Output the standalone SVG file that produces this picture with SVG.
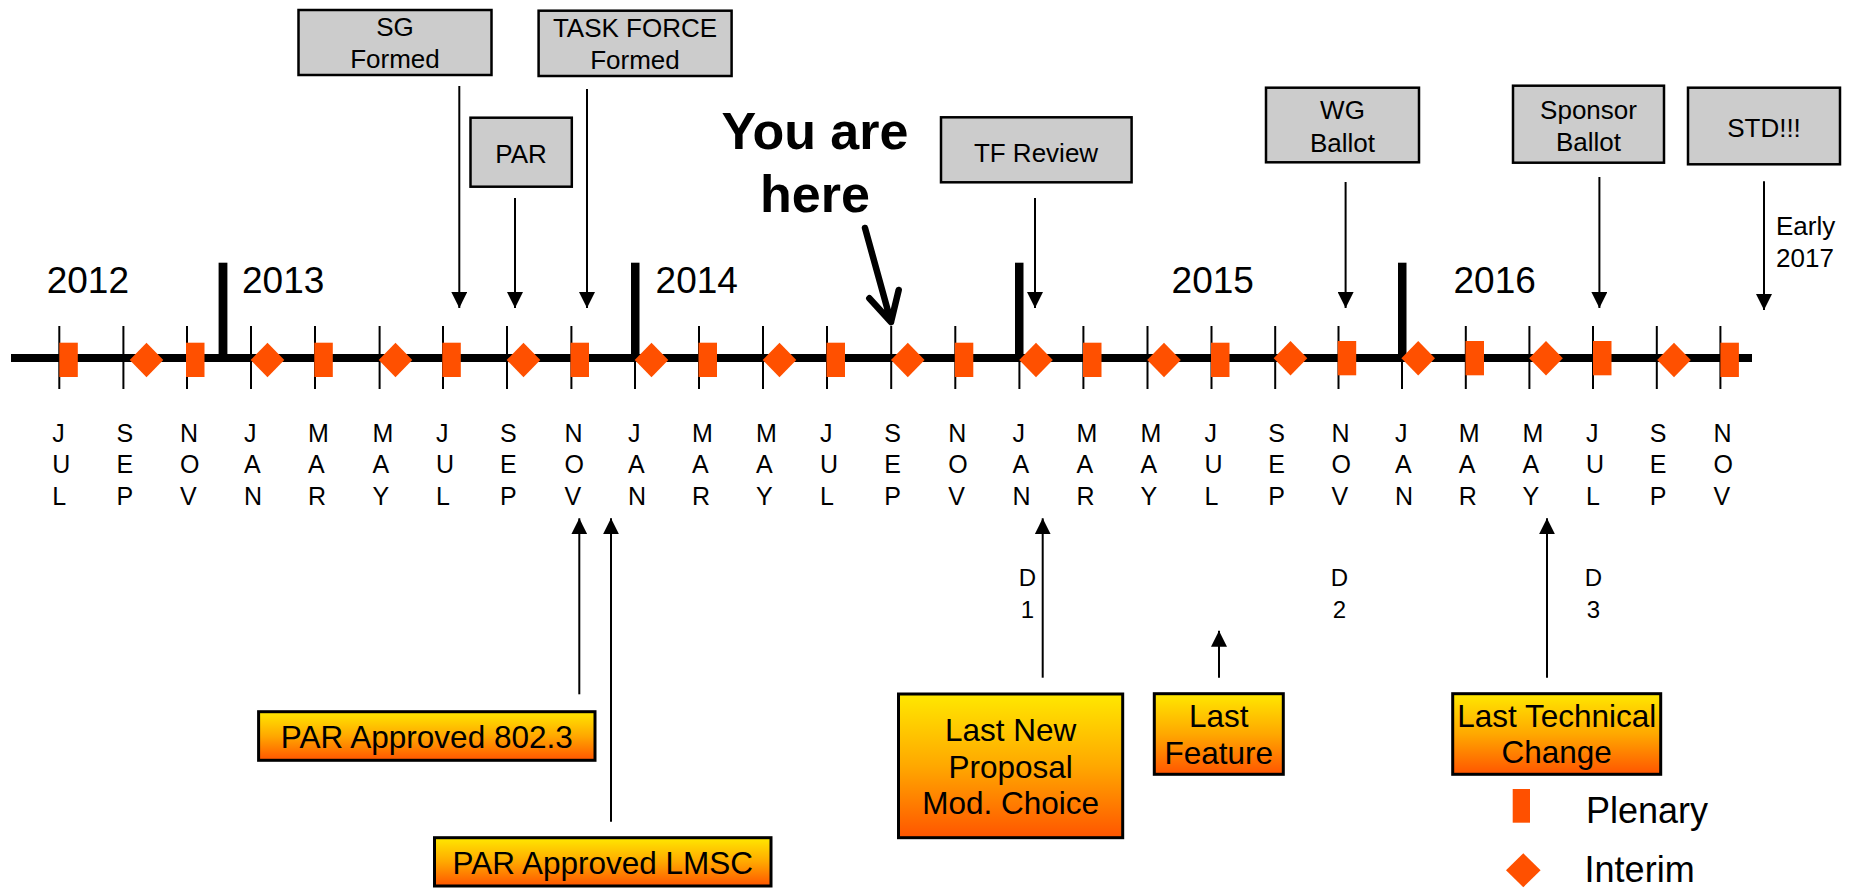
<svg xmlns="http://www.w3.org/2000/svg" width="1864" height="888" viewBox="0 0 1864 888">
<defs>
<linearGradient id="gy" x1="0" y1="0" x2="0" y2="1">
<stop offset="0" stop-color="#FFE800"/>
<stop offset="0.5" stop-color="#FFA800"/>
<stop offset="1" stop-color="#FF5500"/>
</linearGradient>
<marker id="ah" viewBox="0 0 16 16" refX="16" refY="8" markerWidth="16" markerHeight="16" markerUnits="userSpaceOnUse" orient="auto">
<path d="M0,0 L16,8 L0,16 Z" fill="#000"/>
</marker>
<rect id="plen" x="0" y="0" width="18.5" height="34.3" fill="#FF5000"/>
<path id="dia" d="M0,-17.3 L16.8,0 L0,17.3 L-16.8,0 Z" fill="#FF5000"/>
</defs>
<style>
text{font-family:"Liberation Sans",Arial,sans-serif;fill:#000}
.box{fill:#CCCCCC;stroke:#000;stroke-width:2.5}
.gbox{fill:url(#gy);stroke:#000;stroke-width:3}
.bt{font-size:26px;text-anchor:middle}
.gt{font-size:31.5px;text-anchor:middle}
.yr{font-size:37px}
.mo{font-size:25px}
.dl{font-size:24px;text-anchor:middle}
.ar{stroke:#000;stroke-width:2;fill:none;marker-end:url(#ah)}
.tick{stroke:#000;stroke-width:2}
.ybar{fill:#000}
.lg{font-size:36px}
</style>
<rect width="1864" height="888" fill="#fff"/>

<g id="timeline">
<line x1="11" y1="358" x2="1752" y2="358" stroke="#000" stroke-width="8"/>
<rect class="ybar" x="218.6" y="262.7" width="8.8" height="96"/>
<rect class="ybar" x="631" y="262.7" width="8.5" height="96"/>
<rect class="ybar" x="1015" y="262.7" width="8.5" height="96"/>
<rect class="ybar" x="1398" y="262.7" width="8.5" height="96"/>
<g id="ticks">
<line class="tick" x1="59.3" y1="326" x2="59.3" y2="389"/>
<line class="tick" x1="123.4" y1="326" x2="123.4" y2="389"/>
<line class="tick" x1="187" y1="326" x2="187" y2="389"/>
<line class="tick" x1="251" y1="326" x2="251" y2="389"/>
<line class="tick" x1="315" y1="326" x2="315" y2="389"/>
<line class="tick" x1="379.6" y1="326" x2="379.6" y2="389"/>
<line class="tick" x1="443" y1="326" x2="443" y2="389"/>
<line class="tick" x1="507" y1="326" x2="507" y2="389"/>
<line class="tick" x1="571.4" y1="326" x2="571.4" y2="389"/>
<line class="tick" x1="635" y1="326" x2="635" y2="389"/>
<line class="tick" x1="699" y1="326" x2="699" y2="389"/>
<line class="tick" x1="763" y1="326" x2="763" y2="389"/>
<line class="tick" x1="827" y1="326" x2="827" y2="389"/>
<line class="tick" x1="891.2" y1="326" x2="891.2" y2="389"/>
<line class="tick" x1="955.3" y1="326" x2="955.3" y2="389"/>
<line class="tick" x1="1019.4" y1="326" x2="1019.4" y2="389"/>
<line class="tick" x1="1083.4" y1="326" x2="1083.4" y2="389"/>
<line class="tick" x1="1147.5" y1="326" x2="1147.5" y2="389"/>
<line class="tick" x1="1211.5" y1="326" x2="1211.5" y2="389"/>
<line class="tick" x1="1275.2" y1="326" x2="1275.2" y2="389"/>
<line class="tick" x1="1338.5" y1="326" x2="1338.5" y2="389"/>
<line class="tick" x1="1402" y1="326" x2="1402" y2="389"/>
<line class="tick" x1="1465.8" y1="326" x2="1465.8" y2="389"/>
<line class="tick" x1="1529.4" y1="326" x2="1529.4" y2="389"/>
<line class="tick" x1="1593" y1="326" x2="1593" y2="389"/>
<line class="tick" x1="1656.8" y1="326" x2="1656.8" y2="389"/>
<line class="tick" x1="1720.4" y1="326" x2="1720.4" y2="389"/>
</g>
<g id="markers">
<use href="#plen" x="59.3" y="342.7"/>
<use href="#dia" x="146.5" y="360"/>
<use href="#plen" x="186" y="342.7"/>
<use href="#dia" x="267.5" y="360"/>
<use href="#plen" x="314.3" y="342.7"/>
<use href="#dia" x="395.5" y="360"/>
<use href="#plen" x="442.3" y="342.7"/>
<use href="#dia" x="523.5" y="360"/>
<use href="#plen" x="570.5" y="342.7"/>
<use href="#dia" x="651.5" y="360"/>
<use href="#plen" x="698.5" y="342.7"/>
<use href="#dia" x="779.5" y="360"/>
<use href="#plen" x="826.5" y="342.7"/>
<use href="#dia" x="907.8" y="360"/>
<use href="#plen" x="954.8" y="342.7"/>
<use href="#dia" x="1036" y="360"/>
<use href="#plen" x="1083" y="342.7"/>
<use href="#dia" x="1164" y="360"/>
<use href="#plen" x="1211" y="342.7"/>
<use href="#dia" x="1290.5" y="358.3"/>
<use href="#plen" x="1337.7" y="341"/>
<use href="#dia" x="1418.2" y="358.3"/>
<use href="#plen" x="1465.5" y="341"/>
<use href="#dia" x="1546" y="358.3"/>
<use href="#plen" x="1593" y="341"/>
<use href="#dia" x="1674" y="360"/>
<use href="#plen" x="1720.4" y="342.7"/>
</g>
<g id="years">
<text class="yr" x="46.7" y="293">2012</text>
<text class="yr" x="242" y="293">2013</text>
<text class="yr" x="655.6" y="293">2014</text>
<text class="yr" x="1171.6" y="293">2015</text>
<text class="yr" x="1453.5" y="293">2016</text>
</g>
<g id="months">
<text class="mo" x="52.3" y="441.7">J</text><text class="mo" x="52.3" y="473.4">U</text><text class="mo" x="52.3" y="505">L</text>
<text class="mo" x="116.4" y="441.7">S</text><text class="mo" x="116.4" y="473.4">E</text><text class="mo" x="116.4" y="505">P</text>
<text class="mo" x="180" y="441.7">N</text><text class="mo" x="180" y="473.4">O</text><text class="mo" x="180" y="505">V</text>
<text class="mo" x="244" y="441.7">J</text><text class="mo" x="244" y="473.4">A</text><text class="mo" x="244" y="505">N</text>
<text class="mo" x="308" y="441.7">M</text><text class="mo" x="308" y="473.4">A</text><text class="mo" x="308" y="505">R</text>
<text class="mo" x="372.6" y="441.7">M</text><text class="mo" x="372.6" y="473.4">A</text><text class="mo" x="372.6" y="505">Y</text>
<text class="mo" x="436" y="441.7">J</text><text class="mo" x="436" y="473.4">U</text><text class="mo" x="436" y="505">L</text>
<text class="mo" x="500" y="441.7">S</text><text class="mo" x="500" y="473.4">E</text><text class="mo" x="500" y="505">P</text>
<text class="mo" x="564.4" y="441.7">N</text><text class="mo" x="564.4" y="473.4">O</text><text class="mo" x="564.4" y="505">V</text>
<text class="mo" x="628" y="441.7">J</text><text class="mo" x="628" y="473.4">A</text><text class="mo" x="628" y="505">N</text>
<text class="mo" x="692" y="441.7">M</text><text class="mo" x="692" y="473.4">A</text><text class="mo" x="692" y="505">R</text>
<text class="mo" x="756" y="441.7">M</text><text class="mo" x="756" y="473.4">A</text><text class="mo" x="756" y="505">Y</text>
<text class="mo" x="820" y="441.7">J</text><text class="mo" x="820" y="473.4">U</text><text class="mo" x="820" y="505">L</text>
<text class="mo" x="884.2" y="441.7">S</text><text class="mo" x="884.2" y="473.4">E</text><text class="mo" x="884.2" y="505">P</text>
<text class="mo" x="948.3" y="441.7">N</text><text class="mo" x="948.3" y="473.4">O</text><text class="mo" x="948.3" y="505">V</text>
<text class="mo" x="1012.4" y="441.7">J</text><text class="mo" x="1012.4" y="473.4">A</text><text class="mo" x="1012.4" y="505">N</text>
<text class="mo" x="1076.4" y="441.7">M</text><text class="mo" x="1076.4" y="473.4">A</text><text class="mo" x="1076.4" y="505">R</text>
<text class="mo" x="1140.5" y="441.7">M</text><text class="mo" x="1140.5" y="473.4">A</text><text class="mo" x="1140.5" y="505">Y</text>
<text class="mo" x="1204.5" y="441.7">J</text><text class="mo" x="1204.5" y="473.4">U</text><text class="mo" x="1204.5" y="505">L</text>
<text class="mo" x="1268.2" y="441.7">S</text><text class="mo" x="1268.2" y="473.4">E</text><text class="mo" x="1268.2" y="505">P</text>
<text class="mo" x="1331.5" y="441.7">N</text><text class="mo" x="1331.5" y="473.4">O</text><text class="mo" x="1331.5" y="505">V</text>
<text class="mo" x="1395" y="441.7">J</text><text class="mo" x="1395" y="473.4">A</text><text class="mo" x="1395" y="505">N</text>
<text class="mo" x="1458.8" y="441.7">M</text><text class="mo" x="1458.8" y="473.4">A</text><text class="mo" x="1458.8" y="505">R</text>
<text class="mo" x="1522.4" y="441.7">M</text><text class="mo" x="1522.4" y="473.4">A</text><text class="mo" x="1522.4" y="505">Y</text>
<text class="mo" x="1586" y="441.7">J</text><text class="mo" x="1586" y="473.4">U</text><text class="mo" x="1586" y="505">L</text>
<text class="mo" x="1649.8" y="441.7">S</text><text class="mo" x="1649.8" y="473.4">E</text><text class="mo" x="1649.8" y="505">P</text>
<text class="mo" x="1713.4" y="441.7">N</text><text class="mo" x="1713.4" y="473.4">O</text><text class="mo" x="1713.4" y="505">V</text>
</g>
<g id="drafts">
<text class="dl" x="1027.5" y="586">D</text><text class="dl" x="1027.5" y="618">1</text>
<text class="dl" x="1339.5" y="586">D</text><text class="dl" x="1339.5" y="618">2</text>
<text class="dl" x="1593.5" y="586">D</text><text class="dl" x="1593.5" y="618">3</text>
</g>
</g>

<g id="connectors">
<line class="ar" x1="459.3" y1="86" x2="459.3" y2="308"/>
<line class="ar" x1="515" y1="198" x2="515" y2="308"/>
<line class="ar" x1="587" y1="89" x2="587" y2="308"/>
<line class="ar" x1="1035" y1="198" x2="1035" y2="308"/>
<line class="ar" x1="1345.6" y1="182" x2="1345.6" y2="308"/>
<line class="ar" x1="1599.4" y1="177" x2="1599.4" y2="308"/>
<line class="ar" x1="1764" y1="181.3" x2="1764" y2="310"/>
<line class="ar" x1="579.3" y1="694.3" x2="579.3" y2="518.3"/>
<line class="ar" x1="611" y1="821.7" x2="611" y2="518.3"/>
<line class="ar" x1="1042.7" y1="677.7" x2="1042.7" y2="518.3"/>
<line class="ar" x1="1219" y1="677.7" x2="1219" y2="630.7"/>
<line class="ar" x1="1547" y1="677.7" x2="1547" y2="518.3"/>
<path d="M865,228 L891,322 M869.3,298.3 L891,322 L898.7,290" fill="none" stroke="#000" stroke-width="6.5" stroke-linecap="round" stroke-linejoin="round"/>
</g>

<g id="you-are-here">
<text x="815" y="149" font-size="52" font-weight="bold" text-anchor="middle">You are</text>
<text x="815" y="212" font-size="52" font-weight="bold" text-anchor="middle">here</text>
</g>

<g id="sg-formed">
<rect class="box" x="298.5" y="10" width="193" height="65"/>
<text class="bt" x="395" y="36">SG</text>
<text class="bt" x="395" y="68">Formed</text>
</g>
<g id="par">
<rect class="box" x="470.5" y="117.7" width="101.3" height="69"/>
<text class="bt" x="521" y="163">PAR</text>
</g>
<g id="task-force">
<rect class="box" x="538.6" y="10.7" width="193" height="65.3"/>
<text class="bt" x="635" y="37">TASK FORCE</text>
<text class="bt" x="635" y="69">Formed</text>
</g>
<g id="tf-review">
<rect class="box" x="941" y="117.3" width="190.6" height="65"/>
<text class="bt" x="1036" y="161.5">TF Review</text>
</g>
<g id="wg-ballot">
<rect class="box" x="1266" y="87.7" width="153" height="74.6"/>
<text class="bt" x="1342.5" y="119">WG</text>
<text class="bt" x="1342.5" y="151.5">Ballot</text>
</g>
<g id="sponsor-ballot">
<rect class="box" x="1513" y="85.7" width="151" height="77"/>
<text class="bt" x="1588.5" y="119">Sponsor</text>
<text class="bt" x="1588.5" y="151">Ballot</text>
</g>
<g id="std">
<rect class="box" x="1688" y="87.7" width="152" height="76.6"/>
<text class="bt" x="1764" y="136.5">STD!!!</text>
</g>
<g id="early-2017">
<text font-size="26" x="1776" y="235">Early</text>
<text font-size="26" x="1776" y="267">2017</text>
</g>

<g id="par-approved-8023">
<rect class="gbox" x="258.6" y="711.7" width="336.4" height="48.6"/>
<text class="gt" x="426.8" y="748.3">PAR Approved 802.3</text>
</g>
<g id="par-approved-lmsc">
<rect class="gbox" x="434.5" y="837.7" width="336.5" height="48.3"/>
<text class="gt" x="602.8" y="874">PAR Approved LMSC</text>
</g>
<g id="last-new-proposal">
<rect class="gbox" x="898.5" y="694" width="224.2" height="143.7"/>
<text class="gt" x="1010.6" y="741">Last New</text>
<text class="gt" x="1010.6" y="777.7">Proposal</text>
<text class="gt" x="1010.6" y="814.3">Mod. Choice</text>
</g>
<g id="last-feature">
<rect class="gbox" x="1154.3" y="693.7" width="129" height="80.6"/>
<text class="gt" x="1218.8" y="726.7">Last</text>
<text class="gt" x="1218.8" y="764">Feature</text>
</g>
<g id="last-technical-change">
<rect class="gbox" x="1452.7" y="693.7" width="208" height="80.6"/>
<text class="gt" x="1556.7" y="726.7">Last Technical</text>
<text class="gt" x="1556.7" y="763.3">Change</text>
</g>

<g id="legend">
<rect x="1512.7" y="789" width="17.3" height="33.7" fill="#FF5000"/>
<text class="lg" x="1586" y="822.7">Plenary</text>
<path d="M1523.3,853.3 L1540.6,870.3 L1523.3,887.3 L1506,870.3 Z" fill="#FF5000"/>
<text class="lg" x="1584.6" y="882">Interim</text>
</g>
</svg>
